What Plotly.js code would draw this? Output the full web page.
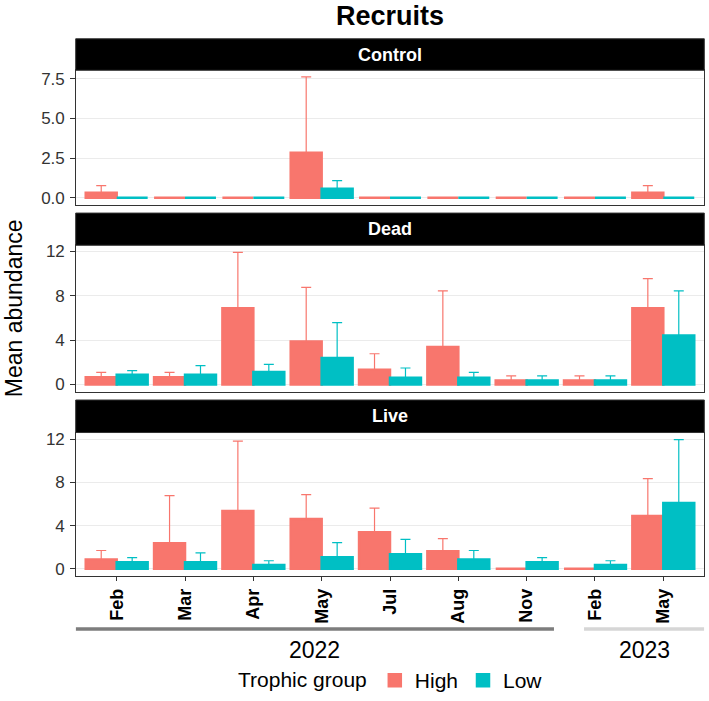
<!DOCTYPE html>
<html>
<head>
<meta charset="utf-8">
<script src="https://cdn.plot.ly/plotly-3.0.1.min.js"></script>
<style>html,body{margin:0;padding:0;background:#fff;}#chart{width:709px;height:701px;}</style>
</head>
<body>
<div id="chart"></div>
<script>
// ---- data ----
const months = ['Feb','Mar','Apr','May','Jul','Aug','Nov','Feb','May'];
const years  = ['2022','2022','2022','2022','2022','2022','2022','2023','2023'];
const panels = ['Control','Dead','Live'];
const groups = ['High','Low'];

const controlHighMean = [0.33, 0, 0, 2.85, 0, 0, 0, 0, 0.33];
const controlHighSE   = [0.44, 0, 0, 4.77, 0, 0, 0, 0, 0.44];
const controlLowMean  = [0, 0, 0, 0.57, 0, 0, 0, 0, 0];
const controlLowSE    = [0, 0, 0, 0.52, 0, 0, 0, 0, 0];

const deadHighMean = [0.66, 0.66, 6.88, 3.87, 1.34, 3.37, 0.36, 0.36, 6.88];
const deadHighSE   = [0.44, 0.44, 5.02, 4.88, 1.43, 5.06, 0.42, 0.42, 2.65];
const deadLowMean  = [0.89, 0.89, 1.13, 2.38, 0.60, 0.60, 0.36, 0.36, 4.41];
const deadLowSE    = [0.36, 0.81, 0.69, 3.19, 0.89, 0.50, 0.42, 0.42, 4.02];

const liveHighMean = [0.86, 2.36, 5.34, 4.60, 3.38, 1.63, 0, 0, 4.88];
const liveHighSE   = [0.83, 4.42, 6.48, 2.27, 2.24, 1.16, 0, 0, 3.47];
const liveLowMean  = [0.61, 0.61, 0.34, 1.07, 1.35, 0.86, 0.61, 0.34, 6.10];
const liveLowSE    = [0.43, 0.86, 0.40, 1.35, 1.38, 0.83, 0.43, 0.40, 5.87];

const controlTicks = [0, 2.5, 5, 7.5];
const controlTickText = ['0.0', '2.5', '5.0', '7.5'];
const deadLiveTicks = [0, 4, 8, 12];

// ---- styling ----
const W = 709, H = 701;
const colors = {High: '#F8766D', Low: '#00BFC4'};
const px = v => v / W;
const py = v => 1 - v / H;
const panelX = [75.7, 704.3];
const panelY = {Control: [70.7, 205.7], Dead: [246.7, 394], Live: [435, 579.3]};
const stripY = {Control: [39, 70.7], Dead: [214.3, 246.7], Live: [402.3, 435]};
const yRanges = {Control: [-0.42, 8.04], Dead: [-0.65, 12.54], Live: [-0.67, 12.62]};
const font = 'Liberation Sans, Arial, Helvetica, sans-serif';

const cats = months.map((m, i) => years[i] + ' ' + m);

const series = {
  Control: {High: [controlHighMean, controlHighSE], Low: [controlLowMean, controlLowSE]},
  Dead:    {High: [deadHighMean, deadHighSE],       Low: [deadLowMean, deadLowSE]},
  Live:    {High: [liveHighMean, liveHighSE],       Low: [liveLowMean, liveLowSE]}
};

const traces = [];
panels.forEach((p, pi) => {
  const ax = pi === 0 ? '' : String(pi + 1);
  groups.forEach(g => {
    const [mean, se] = series[p][g];
    traces.push({
      type: 'bar',
      x: cats,
      y: mean,
      name: g,
      legendgroup: g,
      showlegend: pi === 0,
      xaxis: 'x' + ax,
      yaxis: 'y' + ax,
      marker: {color: colors[g], line: {color: colors[g], width: 2.5}},
      error_y: {type: 'data', symmetric: false, array: se, arrayminus: se.map(() => 0),
                color: colors[g], thickness: 1.2, width: 5},
      hoverinfo: 'x+y'
    });
  });
});

const layout = {
  width: W, height: H,
  margin: {l: 0, r: 0, t: 0, b: 0},
  paper_bgcolor: '#fff', plot_bgcolor: '#fff',
  font: {family: font, color: '#000'},
  barmode: 'group', bargap: 0.094, bargroupgap: 0,
  title: {text: '<b>Recruits</b>', font: {family: font, size: 27, color: '#000'},
          x: (panelX[0] + panelX[1]) / 2 / W, xanchor: 'center', y: py(15.5), yanchor: 'middle'},
  showlegend: true,
  legend: {orientation: 'h', x: px(236), xanchor: 'left', y: py(684.5), yanchor: 'middle',
           title: {text: 'Trophic group', side: 'left', font: {size: 21, family: font}},
           font: {size: 21, family: font}, bgcolor: 'rgba(0,0,0,0)', traceorder: 'normal'},
  shapes: [], annotations: []
};

panels.forEach((p, pi) => {
  const ax = pi === 0 ? '' : String(pi + 1);
  const isBottom = pi === panels.length - 1;
  layout['xaxis' + ax] = {
    domain: [px(panelX[0]), px(panelX[1])],
    anchor: 'y' + ax,
    type: 'category', categoryorder: 'array', categoryarray: cats,
    range: [-0.6, cats.length - 0.4],
    tickvals: cats, ticktext: months,
    showticklabels: isBottom, ticks: isBottom ? 'outside' : '', ticklen: 4.5, tickcolor: '#333', tickwidth: 1,
    tickangle: -90,
    tickfont: {family: font, size: 18, color: '#000', weight: 'bold'},
    showgrid: false, zeroline: false,
    showline: true, mirror: true, linecolor: '#333', linewidth: 1,
    fixedrange: true
  };
  layout['yaxis' + ax] = {
    domain: [py(panelY[p][1]), py(panelY[p][0])],
    anchor: 'x' + ax,
    range: yRanges[p],
    tickvals: p === 'Control' ? controlTicks : deadLiveTicks,
    ticktext: p === 'Control' ? controlTickText : deadLiveTicks.map(String),
    ticks: 'outside', ticklen: 4.5, tickcolor: '#333', tickwidth: 1,
    ticklabelstandoff: 2,
    tickfont: {family: font, size: 17, color: '#333'},
    showgrid: true, gridcolor: '#EBEBEB', gridwidth: 1,
    zeroline: false,
    showline: true, mirror: true, linecolor: '#333', linewidth: 1,
    fixedrange: true
  };
  // strip
  layout.shapes.push({type: 'rect', xref: 'paper', yref: 'paper',
    x0: px(panelX[0]), x1: px(panelX[1]), y0: py(stripY[p][1]), y1: py(stripY[p][0]),
    fillcolor: '#000', line: {color: '#333', width: 1}, layer: 'above'});
  layout.annotations.push({xref: 'paper', yref: 'paper', x: (panelX[0] + panelX[1]) / 2 / W,
    y: py((stripY[p][0] + stripY[p][1]) / 2), text: '<b>' + p + '</b>', showarrow: false,
    xanchor: 'center', yanchor: 'middle', font: {family: font, size: 18, color: '#fff'}});
});

// year brackets under the bottom axis
const yearPads = {'2022': [0.6, 0.4], '2023': [0.16, 0.6]};
const yearColors = {'2022': '#7d7d7d', '2023': '#d6d6d6'};
[...new Set(years)].forEach(yr => {
  const first = years.indexOf(yr), last = years.lastIndexOf(yr);
  const x0 = first - yearPads[yr][0], x1 = last + yearPads[yr][1];
  layout.shapes.push({type: 'line', xref: 'x3', yref: 'paper', x0: x0, x1: x1,
    y0: py(632.5), y1: py(632.5), line: {color: yearColors[yr], width: 3.5}});
  layout.annotations.push({xref: 'x3', yref: 'paper', x: (x0 + x1) / 2, y: py(654),
    text: yr, showarrow: false, xanchor: 'center', yanchor: 'middle',
    font: {family: font, size: 23, color: '#000'}});
});

// y axis title
layout.annotations.push({xref: 'paper', yref: 'paper', x: px(14), y: py(310),
  text: 'Mean abundance', textangle: -90, showarrow: false, xanchor: 'center', yanchor: 'middle',
  font: {family: font, size: 23, color: '#000'}});

Plotly.newPlot('chart', traces, layout, {displayModeBar: false, staticPlot: true});
</script>
</body>
</html>
